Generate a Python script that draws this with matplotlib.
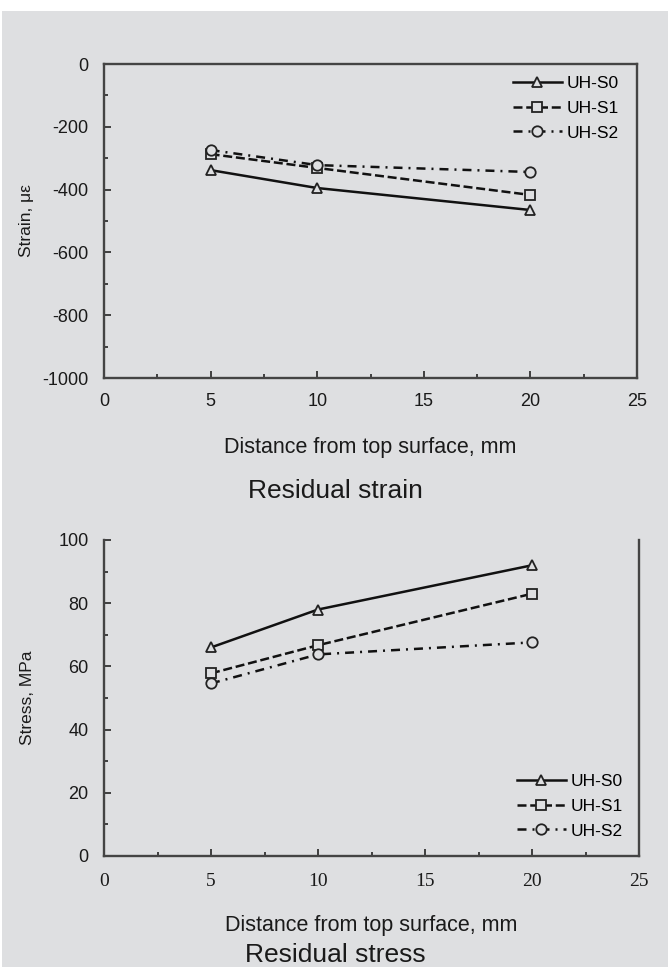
import matplotlib
matplotlib.use("Agg")
import matplotlib.pyplot as plt
from matplotlib.ticker import MultipleLocator
from matplotlib.patches import Rectangle

plt.rcParams['font.family'] = ['Liberation Sans', 'DejaVu Sans']
plt.rcParams['axes.unicode_minus'] = False

distance = [5, 10, 20]
series = ["UH-S0", "UH-S1", "UH-S2"]
strain_s0 = [-338, -395, -465]
strain_s1 = [-287, -331, -417]
strain_s2 = [-274, -322, -344]
stress_s0 = [66, 78, 92]
stress_s1 = [57.8, 66.7, 83]
stress_s2 = [54.6, 63.8, 67.6]

bg = '#dedfe1'
txt = '#1a1a1a'
W, H = 668, 967
fig = plt.figure(figsize=(W/100, H/100), dpi=100, facecolor=bg)
fig.patches.append(Rectangle((0, 1 - 11/H), 1, 11/H, transform=fig.transFigure,
                             facecolor='white', edgecolor='none', zorder=-1))
fig.patches.append(Rectangle((0, 0), 2/W, 1, transform=fig.transFigure,
                             facecolor='white', edgecolor='none', zorder=-1))

styles = [dict(ls='-', marker='^'),
          dict(ls=(0, (3.6, 1.5)), marker='s'),
          dict(ls=(0, (3.6, 2.4, 0.8, 2.4)), marker='o')]

def ax_rect(x0, y0, x1, y1):
    return [x0/W, 1 - y1/H, (x1-x0)/W, (y1-y0)/H]

def style_axes(ax, top_spine=True):
    ax.set_facecolor(bg)
    for s in ax.spines.values():
        s.set_color('#444444'); s.set_linewidth(1.7)
    ax.spines['top'].set_visible(top_spine)
    ax.tick_params(which='both', direction='in', top=False, right=False,
                   color='#333333', width=1.3, labelcolor=txt)
    ax.tick_params(which='major', length=5, labelsize=13)
    ax.tick_params(axis='y', which='major', pad=11)
    ax.tick_params(axis='x', which='major', pad=11)
    ax.tick_params(which='minor', length=3)

def draw(ax, data):
    for vals, name, st in zip(data, series, styles):
        ax.plot(distance, vals, color='#111111', lw=1.8, ms=7.5, mfc=bg,
                mec='#222222', mew=1.3, label=name, **st)

leg_kw = dict(frameon=False, fontsize=12.5, handlelength=2.8, handletextpad=0.3,
              labelspacing=0.55, borderpad=0, borderaxespad=0)

# Top panel: residual strain
x0, y0, x1, y1 = 104, 64, 637, 378
ax1 = fig.add_axes(ax_rect(x0, y0, x1, y1))
draw(ax1, [strain_s0, strain_s1, strain_s2])
ax1.set_xlim(0, 25)
ax1.set_ylim(-1000, 0)
ax1.xaxis.set_major_locator(MultipleLocator(5))
ax1.xaxis.set_minor_locator(MultipleLocator(2.5))
ax1.yaxis.set_major_locator(MultipleLocator(200))
ax1.yaxis.set_minor_locator(MultipleLocator(100))
style_axes(ax1)
ax1.set_xlabel("Distance from top surface, mm", fontsize=15.5, color=txt, va='center')
ax1.xaxis.set_label_coords(0.5, -(447 - y1)/(y1 - y0))
ax1.set_ylabel("Strain, με", fontsize=12.5, color=txt, va='center')
ax1.yaxis.set_label_coords(-(x0 - 27)/(x1 - x0), 0.5)
ax1.legend(loc='upper left', bbox_to_anchor=(513/W, 1 - 76/H),
           bbox_transform=fig.transFigure, **leg_kw)
fig.text(335/W, 1 - 491/H, "Residual strain", ha='center', va='center',
         fontsize=19, color=txt)

# Bottom panel: residual stress
x0, y0, x1, y1 = 104, 540, 639, 856
ax2 = fig.add_axes(ax_rect(x0, y0, x1, y1))
draw(ax2, [stress_s0, stress_s1, stress_s2])
ax2.set_xlim(0, 25)
ax2.set_ylim(0, 100)
ax2.xaxis.set_major_locator(MultipleLocator(5))
ax2.xaxis.set_minor_locator(MultipleLocator(2.5))
ax2.yaxis.set_major_locator(MultipleLocator(20))
ax2.yaxis.set_minor_locator(MultipleLocator(10))
style_axes(ax2, top_spine=False)
ax2.tick_params(axis='x', which='major', pad=12)
for lab in ax2.get_xticklabels():
    lab.set_fontfamily('Liberation Serif')
    lab.set_fontsize(14)
ax2.set_xlabel("Distance from top surface, mm", fontsize=15.5, color=txt, va='center')
ax2.xaxis.set_label_coords(0.5, -(926 - y1)/(y1 - y0))
ax2.set_ylabel("Stress, MPa", fontsize=12.5, color=txt, va='center')
ax2.yaxis.set_label_coords(-(x0 - 27)/(x1 - x0), 0.5)
ax2.legend(loc='upper left', bbox_to_anchor=(517/W, 1 - 774/H),
           bbox_transform=fig.transFigure, **leg_kw)
fig.text(335/W, 1 - 955/H, "Residual stress", ha='center', va='center',
         fontsize=19, color=txt)

fig.savefig("out.png", dpi=100, facecolor=bg)
